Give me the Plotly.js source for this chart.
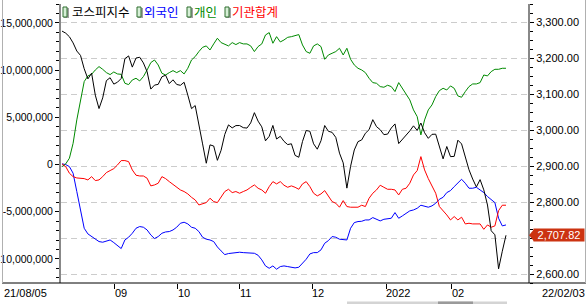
<!DOCTYPE html>
<html><head><meta charset="utf-8">
<script src="https://cdn.plot.ly/plotly-3.0.1.min.js"></script>
<style>html,body{margin:0;padding:0;background:#fff;}#chart{width:586px;height:304px;}</style>
</head><body><div id="chart"></div>
<script>
// trading days 2021-08-05 .. 2022-02-03
const dates = ["21/08/05","21/08/06","21/08/09","21/08/10","21/08/11","21/08/12","21/08/13","21/08/17","21/08/18","21/08/19",
"21/08/20","21/08/23","21/08/24","21/08/25","21/08/26","21/08/27","21/08/30","21/08/31","21/09/01","21/09/02",
"21/09/03","21/09/06","21/09/07","21/09/08","21/09/09","21/09/10","21/09/13","21/09/14","21/09/15","21/09/16",
"21/09/17","21/09/23","21/09/24","21/09/27","21/09/28","21/09/29","21/09/30","21/10/01","21/10/05","21/10/06",
"21/10/07","21/10/08","21/10/12","21/10/13","21/10/14","21/10/15","21/10/18","21/10/19","21/10/20","21/10/21",
"21/10/22","21/10/25","21/10/26","21/10/27","21/10/28","21/10/29","21/11/01","21/11/02","21/11/03","21/11/04",
"21/11/05","21/11/08","21/11/09","21/11/10","21/11/11","21/11/12","21/11/15","21/11/16","21/11/17","21/11/18",
"21/11/19","21/11/22","21/11/23","21/11/24","21/11/25","21/11/26","21/11/29","21/11/30","21/12/01","21/12/02",
"21/12/03","21/12/06","21/12/07","21/12/08","21/12/09","21/12/10","21/12/13","21/12/14","21/12/15","21/12/16",
"21/12/17","21/12/20","21/12/21","21/12/22","21/12/23","21/12/24","21/12/27","21/12/28","21/12/29","21/12/30",
"22/01/03","22/01/04","22/01/05","22/01/06","22/01/07","22/01/10","22/01/11","22/01/12","22/01/13","22/01/14",
"22/01/17","22/01/18","22/01/19","22/01/20","22/01/21","22/01/24","22/01/25","22/01/26","22/01/27","22/01/28",
"22/02/03"];

// 코스피지수 (right axis)
const kospi = [3276.13,3270.36,3260.42,3243.19,3220.62,3208.38,3171.29,3143.09,3158.93,3097.83,
3060.51,3090.21,3138.30,3146.32,3128.53,3133.90,3144.19,3199.27,3207.02,3175.85,
3201.06,3203.33,3187.42,3162.99,3114.70,3125.76,3127.86,3148.83,3153.40,3130.09,
3140.51,3127.58,3125.24,3133.64,3097.92,3060.27,3068.82,3019.18,2962.17,2908.31,
2959.46,2956.30,2916.38,2944.41,2988.64,3015.06,3006.68,3013.13,3013.25,3007.33,
3006.16,3020.54,3049.08,3025.49,3009.55,2970.68,2983.22,3013.49,2975.71,2983.29,
2969.27,2960.20,2962.46,2930.17,2924.92,2968.80,2999.52,2997.33,2962.42,2947.38,
2971.02,3013.25,2997.33,2994.29,2980.27,2936.44,2909.32,2839.01,2899.72,2945.27,
2968.33,2973.25,2991.72,3001.80,3029.57,3010.23,3001.66,2987.95,2989.39,3006.41,
3017.73,2963.00,2975.03,2984.48,2998.17,3012.43,2999.55,3020.24,2993.29,2977.65,
2988.77,2989.24,2953.97,2920.53,2954.89,2926.72,2927.38,2972.48,2962.09,2921.92,
2890.10,2864.24,2842.28,2862.68,2834.29,2792.00,2720.39,2709.24,2614.49,2663.34,
2707.82];

// 외국인 cumulative net buying (left axis)
const foreign = [70000,0,-220000,-920000,-2860000,-4980000,-6750000,-7350000,-7630000,-7910000,
-8160000,-8230000,-8090000,-7990000,-8270000,-8620000,-8900000,-7990000,-7700000,-7280000,
-6750000,-6570000,-6640000,-6930000,-7460000,-7840000,-7630000,-7280000,-7140000,-7100000,
-6930000,-6640000,-6220000,-6110000,-6290000,-6640000,-6750000,-7100000,-7700000,-7910000,
-7990000,-8160000,-8730000,-9150000,-9540000,-9430000,-9360000,-9290000,-9290000,-9330000,
-9330000,-9330000,-9400000,-9610000,-10100000,-10740000,-10990000,-10740000,-11090000,-10810000,
-10740000,-10810000,-10880000,-10950000,-10880000,-10460000,-10030000,-9470000,-9330000,-9330000,
-9040000,-8340000,-8060000,-7630000,-7700000,-7910000,-7910000,-7990000,-6750000,-6150000,
-6040000,-6010000,-5870000,-5870000,-5620000,-5800000,-5970000,-5800000,-5760000,-5690000,
-5090000,-5690000,-5440000,-5160000,-4910000,-4810000,-4630000,-4310000,-4450000,-4520000,
-4380000,-4100000,-3680000,-3470000,-2970000,-2760000,-2340000,-1910000,-1560000,-1980000,
-2510000,-2510000,-2410000,-2690000,-2970000,-3390000,-3750000,-4030000,-5690000,-6500000,
-6400000];

// 개인
const individual = [-220000,70000,670000,2250000,4730000,6850000,8790000,9390000,9560000,10020000,
10380000,10090000,9740000,9530000,9810000,9600000,9560000,8610000,8470000,8960000,
9140000,8860000,9320000,10020000,10800000,11080000,10550000,9670000,9490000,9740000,
9950000,9740000,9950000,9600000,10200000,11080000,11440000,11970000,12420000,12570000,
12140000,12780000,13380000,12920000,12780000,12570000,12920000,12710000,12920000,12780000,
12780000,12570000,11970000,12500000,12780000,13730000,13980000,12850000,13550000,12990000,
13200000,13480000,13550000,13630000,13770000,12670000,11970000,11790000,12570000,12780000,
12500000,11150000,11610000,11790000,11970000,12320000,11610000,12320000,11150000,10550000,
10200000,10020000,9740000,9140000,8680000,8610000,8260000,8190000,8400000,8260000,
7730000,8680000,8080000,7550000,6850000,5790000,5080000,3140000,4730000,5790000,
6320000,7200000,7830000,8080000,7900000,8330000,8080000,7270000,7130000,7730000,
8260000,8540000,8540000,8680000,9490000,9390000,9850000,10090000,10090000,10200000,
10200000];

// 기관합계
const institution = [70000,-220000,-920000,-1280000,-1420000,-1420000,-1490000,-1630000,-1280000,-1700000,
-1630000,-1280000,-850000,-640000,-430000,-40000,420000,420000,310000,-570000,
-1130000,-1210000,-1210000,-1450000,-2260000,-2160000,-1980000,-1280000,-1490000,-1810000,
-2090000,-2340000,-2690000,-2860000,-3110000,-3470000,-3750000,-4280000,-4170000,-4030000,
-3570000,-3920000,-4030000,-3390000,-2860000,-2620000,-2970000,-2860000,-3040000,-2860000,
-2690000,-2410000,-2160000,-2510000,-2690000,-3040000,-2340000,-1810000,-2050000,-1810000,
-2190000,-2410000,-2260000,-2410000,-2620000,-2050000,-1810000,-2340000,-3040000,-3320000,
-3110000,-2760000,-3320000,-3920000,-4100000,-4520000,-3820000,-4450000,-4520000,-4520000,
-4520000,-4310000,-4450000,-3570000,-3040000,-2690000,-2190000,-2410000,-2620000,-2620000,
-2690000,-3220000,-2620000,-2510000,-1980000,-1100000,-640000,840000,-570000,-1490000,
-2340000,-3040000,-4450000,-4880000,-5340000,-5870000,-5510000,-5870000,-5580000,-6290000,
-6220000,-6290000,-6290000,-6290000,-6860000,-6400000,-6640000,-6500000,-4880000,-4310000,
-4310000];

const leftTickVals = [15000000,10000000,5000000,0,-5000000,-10000000];
const leftTickText = ["15,000,000","10,000,000","5,000,000","0","-5,000,000","-10,000,000"];
const rightTickVals = [2600,2700,2800,2900,3000,3100,3200,3300];
// 2,700.00 sits under the last-value marker in the reference
const rightTickText = ["2,600.00","","2,800.00","2,900.00","3,000.00","3,100.00","3,200.00","3,300.00"];
const monthTickPos = [14.32,31.35,48.1,67.57,87.57,105.4];
const monthTickText = ["09","10","11","12","2022","02"];
const seriesNames = ["코스피지수","외국인","개인","기관합계"];
const seriesColors = ["#000000","#0000ff","#008a00","#ff0000"];

const idx = dates.map((d,i)=>i);
const FONT = "Liberation Sans, Arial, sans-serif";
const FS = 11;

// pixel -> paper helpers for decorations (plot area 61..528 x 4..283)
const PL=61, PR=528, PT=4, PB=283;
const px = x => (x-PL)/(PR-PL);
const py = y => (PB-y)/(PB-PT);

const traces = [
  {x: idx, y: kospi, yaxis:'y2', name: seriesNames[0], customdata: dates, type:'scatter', mode:'lines', line:{color:seriesColors[0], width:1}},
  {x: idx, y: foreign, yaxis:'y', name: seriesNames[1], customdata: dates, type:'scatter', mode:'lines', line:{color:seriesColors[1], width:1}},
  {x: idx, y: individual, yaxis:'y', name: seriesNames[2], customdata: dates, type:'scatter', mode:'lines', line:{color:seriesColors[2], width:1}},
  {x: idx, y: institution, yaxis:'y', name: seriesNames[3], customdata: dates, type:'scatter', mode:'lines', line:{color:seriesColors[3], width:1}}
];

const annotations = [];
const shapes = [];
// legend
const legendIcons = [63,137,187,225];
const legendTexts = [72,144,194,232];
seriesNames.forEach((n,k)=>{
  shapes.push({type:'rect', xref:'paper', yref:'paper', x0:px(legendIcons[k]+1), x1:px(legendIcons[k]+6), y0:py(18), y1:py(8), fillcolor:'#a0a0a0', line:{width:0}});
  shapes.push({type:'rect', xref:'paper', yref:'paper', x0:px(legendIcons[k]), x1:px(legendIcons[k]+4), y0:py(17), y1:py(7), fillcolor:'#d6efd6', line:{color:'#2f6f2f', width:1}});
  annotations.push({xref:'paper', yref:'paper', x:px(legendTexts[k]-2), y:py(11.5), xanchor:'left', yanchor:'middle', showarrow:false, text:n,
    font:{family:'Noto Sans CJK KR, sans-serif', size:12.5, color:seriesColors[k]}});
});
// month labels, left-aligned right of each tick
monthTickPos.forEach((p,k)=>{
  annotations.push({xref:'x', yref:'paper', x:p, y:py(293), xanchor:'left', yanchor:'middle', xshift:-2, showarrow:false,
    text:monthTickText[k], font:{family:FONT, size:FS, color:'#000'}});
});
// bottom date corners
annotations.push({xref:'paper', yref:'paper', x:px(2), y:py(293), xanchor:'left', yanchor:'middle', showarrow:false, text:dates[0], font:{family:FONT, size:FS, color:'#000'}});
annotations.push({xref:'paper', yref:'paper', x:px(587), y:py(293), xanchor:'right', yanchor:'middle', showarrow:false, text:dates[dates.length-1], font:{family:FONT, size:FS, color:'#000'}});
// last value label
const last = kospi[kospi.length-1];
annotations.push({xref:'paper', yref:'y2', x:px(533), y:last, xanchor:'left', yanchor:'middle', showarrow:false,
  text: last.toLocaleString('en-US',{minimumFractionDigits:2, maximumFractionDigits:2}),
  bgcolor:'#cc3311', width:50, height:12, borderpad:0, align:'center', font:{family:FONT, size:FS, color:'#ffffff'}});
shapes.push({type:'path', xref:'paper', yref:'y2', ysizemode:'pixel', yanchor:last,
  path:`M ${px(529)},0 L ${px(534)},-6 L ${px(534)},6 Z`, fillcolor:'#cc3311', line:{width:0}});
// frame and base line
shapes.push({type:'line', xref:'paper', yref:'paper', x0:px(2), x1:px(586), y0:py(283), y1:py(283), line:{color:'#000', width:1}});
shapes.push({type:'line', xref:'paper', yref:'paper', x0:px(2.5), x1:px(2.5), y0:py(283), y1:py(0), line:{color:'#b0b0b0', width:1}});
shapes.push({type:'line', xref:'paper', yref:'paper', x0:px(585.5), x1:px(585.5), y0:py(283), y1:py(0), line:{color:'#b0b0b0', width:1}});
// scrollbar strip at the bottom edge
shapes.push({type:'rect', xref:'paper', yref:'paper', x0:px(347), x1:px(507), y0:py(304), y1:py(301.5), fillcolor:'#d4d4d4', line:{width:0}});
shapes.push({type:'rect', xref:'paper', yref:'paper', x0:px(438), x1:px(473), y0:py(304), y1:py(301.5), fillcolor:'#9a9a9a', line:{width:0}});

const layout = {
  width:586, height:304,
  margin:{l:PL, r:586-PR, t:PT, b:304-PB, pad:0},
  paper_bgcolor:'#ffffff', plot_bgcolor:'#ffffff',
  showlegend:false,
  font:{family:FONT, size:FS, color:'#000'},
  xaxis:{range:[-0.27,125.95], tickmode:'array', tickvals:monthTickPos, ticktext:monthTickText, showticklabels:false,
    ticks:'outside', ticklen:5, tickcolor:'#000', tickwidth:1,
    showgrid:false, zeroline:false, showline:false, fixedrange:true},
  yaxis:{range:[-12550000,17010000], tickmode:'array', tickvals:leftTickVals, ticktext:leftTickText,
    ticks:'outside', ticklen:4, tickcolor:'#000', tickwidth:1,
    minor:{tickmode:'linear', tick0:0, dtick:1000000, ticks:'outside', ticklen:3, tickcolor:'#000', showgrid:false},
    showgrid:false, zeroline:false, showline:true, linecolor:'#888888', linewidth:2,
    tickfont:{family:FONT, size:10.5, color:'#000'}},
  yaxis2:{range:[2575,3351.5], overlaying:'y', side:'right', tickmode:'array', tickvals:rightTickVals, ticktext:rightTickText,
    ticks:'outside', ticklen:4, tickcolor:'#000', tickwidth:1,
    minor:{tickmode:'linear', tick0:2600, dtick:25, ticks:'outside', ticklen:3, tickcolor:'#000', showgrid:false},
    showgrid:true, gridcolor:'#cccccc', gridwidth:1, griddash:'6px,4px',
    zeroline:false, showline:true, linecolor:'#888888', linewidth:2,
    tickfont:{family:FONT, size:FS, color:'#000'}},
  annotations: annotations,
  shapes: shapes
};
Plotly.newPlot('chart', traces, layout, {staticPlot:true, displayModeBar:false});
</script></body></html>
